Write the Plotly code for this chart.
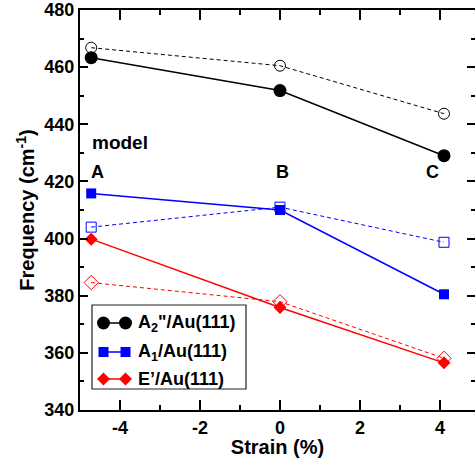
import plotly.graph_objects as go

# Data
strain = [-4.72, 0.0, 4.1]
a2_au = [463.3, 451.8, 429.0]
a2_free = [466.8, 460.5, 443.7]
a1_au = [415.8, 410.0, 380.5]
a1_free = [404.0, 411.0, 398.7]
e_au = [399.8, 375.9, 356.5]
e_free = [384.6, 377.9, 358.1]
model_labels = ["A", "B", "C"]
model_label_x = [-4.56, 0.05, 3.8]
legend_names = ['A<sub>2</sub>"/Au(111)', 'A<sub>1</sub>/Au(111)', "E’/Au(111)"]
x_tickvals = [-4, -2, 0, 2, 4]
x_ticktext = ["-4", "-2", "0", "2", "4"]

BLACK = "#000000"
BLUE = "#0000ff"
RED = "#ff0000"
FONT = "Liberation Sans"

fig = go.Figure()

def add_pair(y_open, y_fill, color, sym):
    fig.add_trace(go.Scatter(
        x=strain, y=y_open, mode="lines+markers",
        line=dict(color=color, width=1, dash="4px,3px"),
        marker=dict(symbol=sym + "-open", size=11 if sym != "square" else 10,
                    color=color, line=dict(color=color, width=1)),
        showlegend=False, cliponaxis=False))
    fig.add_trace(go.Scatter(
        x=strain, y=y_fill, mode="lines+markers",
        line=dict(color=color, width=1.5),
        marker=dict(symbol=sym, size=13 if sym == "circle" else 10, color=color,
                    line=dict(width=0)),
        showlegend=False, cliponaxis=False))

add_pair(a2_free, a2_au, BLACK, "circle")
add_pair(a1_free, a1_au, BLUE, "square")
add_pair(e_free, e_au, RED, "diamond")

# Custom legend drawn on an overlay pixel-axis (figure pixel coordinates)
leg_rows = [323, 352, 379]
leg_colors = [BLACK, BLUE, RED]
leg_syms = ["circle", "square", "diamond"]
leg_sizes = [13, 10, 10]
for yy, c, s, sz, name in zip(leg_rows, leg_colors, leg_syms, leg_sizes, legend_names):
    fig.add_trace(go.Scatter(
        x=[103.5, 125.5], y=[yy, yy], xaxis="x2", yaxis="y2",
        mode="lines+markers", line=dict(color=c, width=1.5),
        marker=dict(symbol=s, size=sz, color=c, line=dict(width=0)),
        showlegend=False, cliponaxis=False, hoverinfo="skip"))
    fig.add_annotation(x=136, y=yy, xref="x2", yref="y2", text=name,
                       showarrow=False, xanchor="left", yanchor="middle",
                       font=dict(family=FONT, size=18, color=BLACK, weight="bold"))

fig.add_shape(type="rect", xref="x2", yref="y2", x0=92, x1=246, y0=305, y1=389,
              line=dict(color="#222222", width=1.2), fillcolor="rgba(0,0,0,0)")

# Labels
fig.add_annotation(x=-4.74, y=433.5, text="model", showarrow=False,
                   xanchor="left", yanchor="middle",
                   font=dict(family=FONT, size=19, color=BLACK, weight="bold"))
for lx, lt in zip(model_label_x, model_labels):
    fig.add_annotation(x=lx, y=423.3, text=lt, showarrow=False,
                       xanchor="center", yanchor="middle",
                       font=dict(family=FONT, size=18, color=BLACK, weight="bold"))

axis_common = dict(
    showgrid=False, zeroline=False, showline=True, linecolor=BLACK, linewidth=2,
    mirror="allticks", ticks="inside", tickcolor=BLACK, tickwidth=1.5,
    tickfont=dict(family=FONT, size=18, color=BLACK, weight="bold"),
)

fig.update_layout(
    width=475, height=458,
    margin=dict(l=80, r=0, t=10, b=48),
    plot_bgcolor="white", paper_bgcolor="white",
    showlegend=False,
    xaxis=dict(range=[-5, 4.875], tickvals=x_tickvals, ticktext=x_ticktext, ticklen=10,
               minor=dict(dtick=1, ticks="inside", ticklen=5, tickcolor=BLACK, tickwidth=1.5),
               title=dict(text="Strain (%)", standoff=4,
                          font=dict(family=FONT, size=20, color=BLACK, weight="bold")),
               automargin=False,
               **axis_common),
    yaxis=dict(range=[340, 480], dtick=20, ticklen=8,
               minor=dict(dtick=10, ticks="inside", ticklen=4, tickcolor=BLACK, tickwidth=1.5),
               title=dict(text="Frequency (cm<sup>-1</sup>)", standoff=4,
                          font=dict(family=FONT, size=20, color=BLACK, weight="bold")),
               automargin=False,
               **axis_common),
    xaxis2=dict(range=[80, 475], domain=[0, 1], anchor="y2", overlaying="x",
                visible=False, fixedrange=True),
    yaxis2=dict(range=[410, 10], domain=[0, 1], anchor="x2", overlaying="y",
                visible=False, fixedrange=True),
)

fig.write_html("out.html", config={"displayModeBar": False},
               post_script="document.body.style.margin='0';document.body.style.overflow='hidden';")
